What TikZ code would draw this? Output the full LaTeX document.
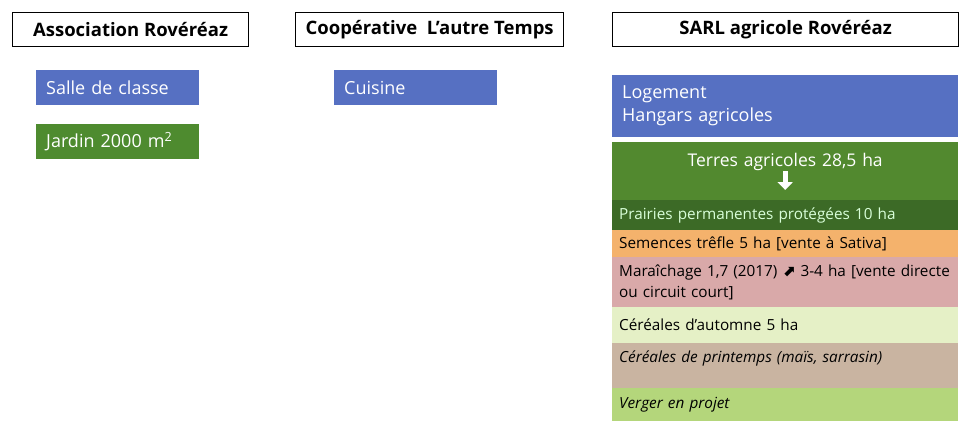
\documentclass[tikz,border=0pt]{standalone}
\usepackage{fontspec}
\setmainfont{Open Sans}
\newfontfamily\symbfont{DejaVu Sans}
\usetikzlibrary{arrows.meta,calc}
\definecolor{bleu}{HTML}{5670C2}
\definecolor{vertjardin}{HTML}{4E8B2F}
\definecolor{vertterres}{HTML}{52892F}
\definecolor{vertprairie}{HTML}{3C6A26}
\definecolor{orangesem}{HTML}{F4B26C}
\definecolor{rosemar}{HTML}{D9A9A9}
\definecolor{vertpale}{HTML}{E5F0C6}
\definecolor{beigecer}{HTML}{C9B4A1}
\definecolor{vertverger}{HTML}{B4D67B}
\begin{document}
\begin{tikzpicture}[x=1pt,y=-1pt,
  entete/.style={draw=black,line width=1.2pt,fill=white,anchor=north west,inner sep=0pt,
    font=\fontsize{18.5}{21}\selectfont\bfseries,text=black},
  piece/.style={fill=bleu,anchor=north west,inner xsep=10pt,inner ysep=0pt,align=left,
    font=\fontsize{18}{23}\selectfont,text=white},
  bande/.style={anchor=north west,inner xsep=7pt,inner ysep=0pt,minimum width=346pt,
    text width=332pt,align=left,font=\fontsize{15.3}{21}\selectfont,text=black},
  fleche/.style={white,line width=5pt,-{Triangle[width=15pt,length=8pt]}}]
\fill[white] (0,0) rectangle (960,421);
\node[entete,minimum width=236pt,minimum height=34pt] (assoc) at (12,12) {Association Rovéréaz};
\node[entete,minimum width=268pt,minimum height=34pt] (coop) at (295,12) {Coopérative\ \ L’autre Temps};
\node[entete,minimum width=346pt,minimum height=34pt] (sarl) at (612,12) {SARL agricole Rovéréaz};
\node[piece,minimum width=163pt,minimum height=35pt,text width=143pt] (salle) at (36,70) {Salle de classe};
\node[piece,fill=vertjardin,minimum width=163pt,minimum height=35pt,text width=143pt] (jardin) at (36,124) {Jardin 2000 m\textsuperscript{2}};
\node[piece,minimum width=163pt,minimum height=35pt,text width=143pt] (cuisine) at (334,70) {Cuisine};
\node[piece,minimum width=346pt,minimum height=62pt,text width=326pt] (logement) at (612,75) {Logement\\Hangars agricoles};
\node[bande,fill=vertterres,text=white,align=center,text height=24pt,text depth=34pt,
  font=\fontsize{17.5}{21}\selectfont] (terres) at (612,142) {Terres agricoles 28,5 ha};
\draw[fleche] ($(terres.north)+(0,29)$) -- ($(terres.north)+(0,48)$);
\node[bande,fill=vertprairie,text=white!85!green,minimum height=30pt] (prairies) at (612,200) {Prairies permanentes protégées 10 ha};
\node[bande,fill=orangesem,minimum height=27pt] (semences) at (612,230) {Semences trêfle 5 ha [vente à Sativa]};
\node[bande,fill=rosemar,minimum height=50pt] (maraichage) at (612,257) {Maraîchage 1,7 (2017) {\symbfont\bfseries ⬈} 3-4 ha [vente directe\\ou circuit court]};
\node[bande,fill=vertpale,minimum height=36pt] (automne) at (612,307) {Céréales d’automne 5 ha};
\node[bande,fill=beigecer,text height=19pt,text depth=26pt,font=\fontsize{15.3}{21}\selectfont\itshape] (printemps) at (612,343) {Céréales de printemps (maïs, sarrasin)};
\node[bande,fill=vertverger,minimum height=33pt,font=\fontsize{15.3}{21}\selectfont\itshape] (verger) at (612,388) {Verger en projet};
\end{tikzpicture}
\end{document}
